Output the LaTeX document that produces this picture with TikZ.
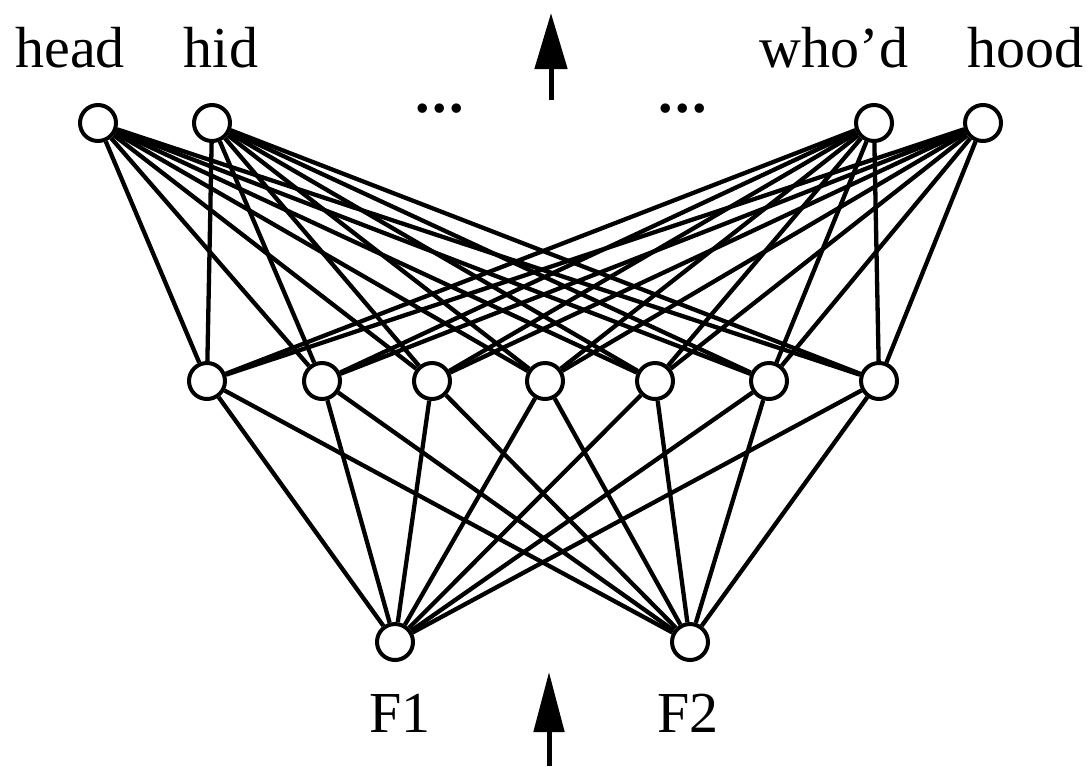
\documentclass[tikz,border=0pt]{standalone}
\usepackage{fontspec}
\setmainfont{Liberation Serif}
\usetikzlibrary{arrows.meta}
\begin{document}
\begin{tikzpicture}[x=1pt,y=-1pt,
  unit/.style={circle,draw,line width=4pt,fill=white,minimum size=36pt,inner sep=0pt},
  conn/.style={line width=4.3pt},
  lbl/.style={anchor=base,inner sep=0pt,font=\fontsize{58}{62}\selectfont},
  dots/.style={lbl,font=\fontsize{58}{62}\selectfont\bfseries},
  bigarrow/.style={line width=5pt,-{Triangle[length=56pt,width=32pt]}}]
\useasboundingbox (0,0) rectangle (1091,766);
% output units
\node[unit] (o1) at (98,123) {};
\node[unit] (o2) at (212,123) {};
\node[unit] (o3) at (874,123) {};
\node[unit] (o4) at (983,123) {};
% hidden units
\foreach \i/\x in {1/207,2/322,3/432,4/545,5/655,6/769,7/879}
  \node[unit] (h\i) at (\x,381) {};
% inputs
\node[unit] (i1) at (395,642) {};
\node[unit] (i2) at (690,642) {};
% connections
\foreach \o in {o1,o2,o3,o4}
  \foreach \i in {1,...,7}
    \draw[conn] (\o) -- (h\i);
\foreach \n in {i1,i2}
  \foreach \i in {1,...,7}
    \draw[conn] (\n) -- (h\i);
% labels
\node[lbl] (lhead) at (70,67) {head};
\node[lbl] (lhid) at (221,67) {hid};
\node[lbl] (lwhod) at (834,67) {who’d};
\node[lbl] (lhood) at (1025,67) {hood};
\node[dots] (d1) at (440,112) {.\kern2.5pt.\kern2.5pt.};
\node[dots] (d2) at (683,112) {.\kern2.5pt.\kern2.5pt.};
\node[lbl] (lf1) at (400,732) {F1};
\node[lbl] (lf2) at (688,732) {F2};
% arrows
\coordinate (ta) at (551,100);
\coordinate (tb) at (551,13);
\draw[bigarrow] (ta) -- (tb);
\coordinate (ba) at (549,766);
\coordinate (bb) at (549,672);
\draw[bigarrow,-{Triangle[length=60pt,width=30pt]}] (ba) -- (bb);
\end{tikzpicture}
\end{document}
